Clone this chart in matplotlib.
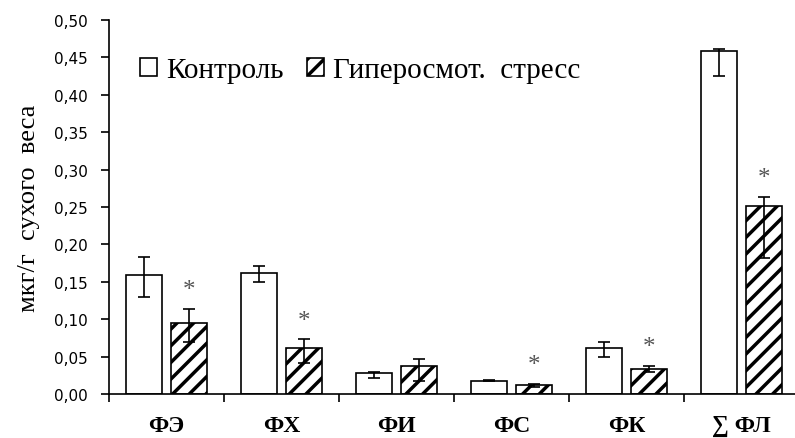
import matplotlib
matplotlib.use("Agg")
import matplotlib.pyplot as plt
import numpy as np
from matplotlib.ticker import FuncFormatter, FixedLocator

plt.rcParams["font.family"] = ["Liberation Serif", "DejaVu Serif"]
plt.rcParams["hatch.linewidth"] = 2.5

categories = ["ФЭ", "ФХ", "ФИ", "ФС", "ФК", "∑ ФЛ"]
control = [0.159, 0.162, 0.028, 0.018, 0.061, 0.459]
control_lo = [0.029, 0.012, 0.007, 0.001, 0.012, 0.034]
control_hi = [0.024, 0.009, 0.002, 0.001, 0.008, 0.002]
stress = [0.095, 0.062, 0.038, 0.012, 0.034, 0.252]
stress_lo = [0.025, 0.020, 0.020, 0.002, 0.005, 0.070]
stress_hi = [0.019, 0.011, 0.009, 0.002, 0.004, 0.012]
significant = [True, True, False, True, True, True]

fig = plt.figure(figsize=(7.95, 4.39), dpi=100)
ax = fig.add_axes([109 / 795, 1 - 395 / 439, 1 - 109 / 795, 374 / 439])

x = np.arange(len(categories))
w = 0.31
off = 0.197
ekw = dict(ecolor="black", elinewidth=1.2, capsize=4, capthick=1.2)
ax.bar(x - off, control, w, color="white", edgecolor="black", linewidth=1.2,
       yerr=[control_lo, control_hi], error_kw=ekw, label="Контроль", zorder=2)
ax.bar(x + off, stress, w, color="white", edgecolor="black", linewidth=1.2, hatch="//",
       yerr=[stress_lo, stress_hi], error_kw=ekw, label="Гиперосмот.  стресс", zorder=2)

for i in range(len(categories)):
    if significant[i]:
        ax.text(x[i] + off, stress[i] + stress_hi[i] + 0.025, "*", ha="center", va="center",
                fontsize=18, color="#555555")

ax.set_xlim(-0.5, 5.465)
ax.set_ylim(0, 0.5)
ax.set_yticks(np.arange(0, 0.501, 0.05))
ax.yaxis.set_major_formatter(FuncFormatter(lambda v, p: f"{v:.2f}".replace(".", ",")))
ax.tick_params(axis="y", labelsize=11, length=6, width=1.2, direction="out", pad=9)
for t in ax.get_yticklabels():
    t.set_fontfamily("DejaVu Sans")
ax.set_xticks(x)
ax.set_xticklabels(categories, fontsize=17, fontweight="bold")
ax.tick_params(axis="x", length=0, pad=15)
ax.xaxis.set_minor_locator(FixedLocator(np.arange(-0.5, 5.5, 1)))
ax.tick_params(axis="x", which="minor", length=6, width=1.2, direction="out")

ax.spines["top"].set_visible(False)
ax.spines["right"].set_visible(False)
ax.spines["left"].set_linewidth(1.2)
ax.spines["bottom"].set_linewidth(1.2)

ax.set_ylabel("мкг/г  сухого  веса", fontsize=19, labelpad=10)

ax.legend(loc="center left", bbox_to_anchor=(0.045, 0.866), frameon=False, ncol=2,
          fontsize=21, handlelength=0.6, handleheight=0.6, handletextpad=0.3,
          columnspacing=0.8, borderpad=0, borderaxespad=0)

plt.savefig("out.png", dpi=100)
plt.close()
